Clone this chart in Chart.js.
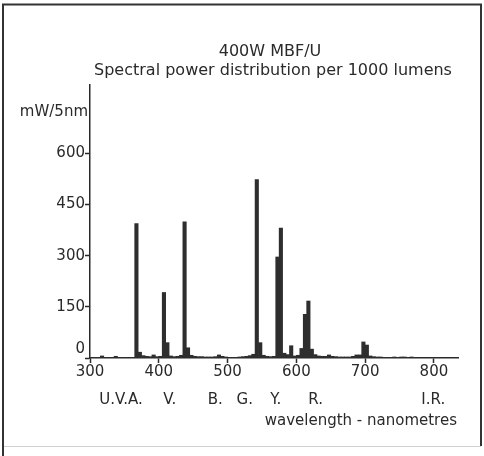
<!DOCTYPE html>
<html><head><meta charset="utf-8">
<script src="https://cdn.jsdelivr.net/npm/chart.js@4/dist/chart.umd.min.js"></script>
<style>html,body{margin:0;padding:0;background:#fff;}#wrap{width:484px;height:456px;position:relative;}</style>
</head><body><div id="wrap"><canvas id="c" width="484" height="456"></canvas></div>
<script>
// bin centres (nm), 5 nm bins
const wavelengths = [302.5,307.5,312.5,317.5,322.5,327.5,332.5,337.5,342.5,347.5,352.5,357.5,
  362.5,367.5,372.5,377.5,382.5,387.5,392.5,397.5,402.5,407.5,412.5,417.5,
  422.5,427.5,432.5,437.5,442.5,447.5,452.5,457.5,462.5,467.5,472.5,477.5,
  482.5,487.5,492.5,497.5,502.5,507.5,512.5,517.5,522.5,527.5,532.5,537.5,
  542.5,547.5,552.5,557.5,562.5,567.5,572.5,577.5,582.5,587.5,592.5,597.5,
  602.5,607.5,612.5,617.5,622.5,627.5,632.5,637.5,642.5,647.5,652.5,657.5,
  662.5,667.5,672.5,677.5,682.5,687.5,692.5,697.5,702.5,707.5,712.5,717.5,
  722.5,727.5,732.5,737.5,742.5,747.5,752.5,757.5,762.5,767.5,772.5,777.5];
// mW per 5 nm per 1000 lumens
const power = [1,1,2,6,1,1,2,5,1,1,1,1,
  2,394,17,7,5,4,9,4,5,192,45,6,
  4,5,8,399,30,8,5,4,4,3,3,3,
  4,9,5,3,2,2,2,3,4,5,7,11,
  523,45,8,5,4,5,296,381,14,10,36,6,
  8,28,128,167,26,10,6,5,5,9,5,4,
  3,3,3,3,5,9,9,47,38,6,4,3,
  3,2,2,2,3,2,3,3,2,3,2,1];
const xTicks = [300,400,500,600,700,800];
const yTicks = [0,150,300,450,600];
const titleLines = ['400W MBF/U','Spectral power distribution per 1000 lumens'];
const yUnit = 'mW/5nm';
const xTitle = 'wavelength - nanometres';
const bandLabels = ['U.V.A.','V.','B.','G.','Y.','R.','I.R.'];
const bandAt = [345,416,482,525,570,628,799];

const ink = '#2a2a2a';
const FONT = '"DejaVu Sans", sans-serif';

const annot = {
  id: 'annot',
  afterDraw(chart) {
    const ctx = chart.ctx, xs = chart.scales.x;
    ctx.save();
    ctx.fillStyle = ink;
    ctx.textBaseline = 'middle';
    ctx.font = '16px ' + FONT;
    ctx.textAlign = 'center';
    ctx.fillText(titleLines[0], 270, 52);
    ctx.fillText(titleLines[1], 273, 71);
    ctx.font = '15px ' + FONT;
    ctx.textAlign = 'right';
    ctx.fillText(yUnit, 88, 112);
    ctx.textAlign = 'center';
    bandLabels.forEach((t, i) => ctx.fillText(t, xs.getPixelForValue(bandAt[i]), 400));
    ctx.textAlign = 'right';
    ctx.fillText(xTitle, 457, 421);
    // frame
    ctx.strokeStyle = '#333';
    ctx.lineWidth = 2;
    ctx.beginPath();
    ctx.moveTo(3, 456); ctx.lineTo(3, 4.5); ctx.lineTo(481, 4.5); ctx.lineTo(481, 446);
    ctx.stroke();
    ctx.strokeStyle = '#d0d0d0';
    ctx.lineWidth = 1;
    ctx.beginPath();
    ctx.moveTo(4, 446.5); ctx.lineTo(481, 446.5);
    ctx.stroke();
    ctx.restore();
  }
};

new Chart(document.getElementById('c'), {
  type: 'bar',
  data: {
    datasets: [{
      data: wavelengths.map((w, i) => ({ x: w, y: power[i] })),
      backgroundColor: '#2e2e2e',
      borderWidth: 0,
      barPercentage: 1,
      categoryPercentage: 1
    }]
  },
  options: {
    responsive: false,
    animation: false,
    devicePixelRatio: 1,
    layout: { padding: { top: 85, right: 26, left: 0, bottom: 0 } },
    plugins: { legend: { display: false }, tooltip: { enabled: false }, title: { display: false } },
    scales: {
      x: {
        type: 'linear',
        offset: false,
        min: 300, max: 835,
        afterBuildTicks: s => { s.ticks = xTicks.map(v => ({ value: v })); },
        afterFit: s => { s.height = 98; },
        grid: { drawOnChartArea: false, offset: false, tickLength: 5, color: ink, tickWidth: 1.5 },
        border: { color: ink, width: 1.5 },
        ticks: { color: ink, font: { family: FONT, size: 15 }, padding: 0, maxRotation: 0, autoSkip: false }
      },
      y: {
        min: 0, max: 800,
        afterBuildTicks: s => { s.ticks = yTicks.map(v => ({ value: v })); },
        afterFit: s => { s.width = 90; },
        grid: { drawOnChartArea: false, tickLength: 5, color: ink, tickWidth: 1.5 },
        border: { color: ink, width: 1.5 },
        ticks: {
          color: ink, font: { family: FONT, size: 15 }, padding: 0,
          callback: v => v === 0 ? ['0', ''] : String(v)
        }
      }
    }
  },
  plugins: [annot]
});
</script></body></html>
